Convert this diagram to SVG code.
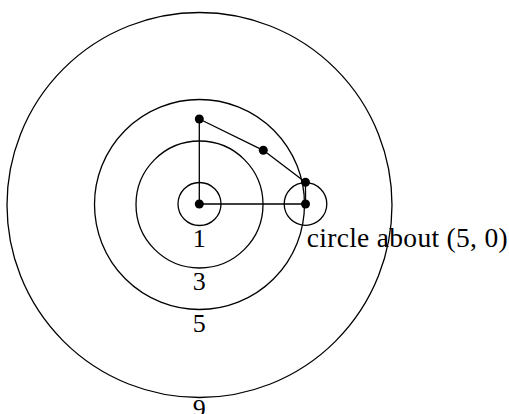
<svg xmlns="http://www.w3.org/2000/svg" width="509" height="414" viewBox="0 0 509 414">
<style>
.c{fill:none;stroke:#000;stroke-width:1.3}
.l{fill:none;stroke:#000;stroke-width:1.3;stroke-linejoin:round}
.d{fill:#000}
text{font-family:"Liberation Serif","DejaVu Serif",serif;font-size:26px;fill:#000}
.m{text-anchor:middle}
.t{font-size:27.5px}
</style>
<rect width="509" height="414" fill="#fff"/>
<g id="circles">
<circle class="c" cx="199.5" cy="205" r="192.5"/>
<circle class="c" cx="199.5" cy="204.5" r="105"/>
<circle class="c" cx="199.5" cy="204.5" r="63.5"/>
<circle class="c" cx="199.5" cy="204" r="21.5"/>
<circle class="c" cx="305.5" cy="204" r="21.3"/>
</g>
<g id="connectors">
<polyline class="l" points="199.3,204 199.3,119 263.3,150.3 305.5,182.3 305.5,204 199.3,204"/>
</g>
<g id="points">
<circle class="d" cx="199.3" cy="204" r="4.5"/>
<circle class="d" cx="199.3" cy="119" r="4.5"/>
<circle class="d" cx="263.3" cy="150.3" r="4.5"/>
<circle class="d" cx="305.5" cy="182.3" r="4.5"/>
<circle class="d" cx="305.5" cy="204" r="4.5"/>
</g>
<g id="labels">
<text class="m" x="199.3" y="247">1</text>
<text class="m" x="199.3" y="290">3</text>
<text class="m" x="199.3" y="331.5">5</text>
<text class="m" x="199.3" y="416.5">9</text>
<text class="t" x="306.7" y="247.3" textLength="201" lengthAdjust="spacing">circle about (5, 0)</text>
</g>
</svg>
